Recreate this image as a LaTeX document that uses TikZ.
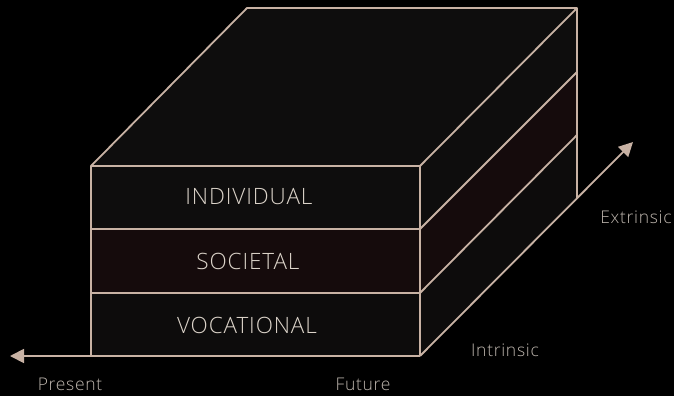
\documentclass[tikz,border=0pt]{standalone}
\usepackage{fontspec}
\setmainfont{Open Sans}
\newfontfamily\labfont[LetterSpace=4]{Open Sans Light}
\usetikzlibrary{arrows.meta}
\definecolor{edge}{HTML}{C8B2A4}
\definecolor{txt}{HTML}{DCD4CA}
\definecolor{sm}{HTML}{BDB5AD}
\definecolor{faceA}{HTML}{0E0D0D}
\definecolor{faceB}{HTML}{150B0C}
\definecolor{faceC}{HTML}{0D0C0C}
\tikzset{
  ln/.style={draw=edge, line width=1.8pt, line join=round},
  layertxt/.style={text=txt, font=\labfont\fontsize{22.5}{24}\selectfont},
  axistxt/.style={text=sm, font=\labfont\fontsize{17.5}{19}\selectfont},
  axarrow/.style={draw=edge, line width=1.8pt, -{Triangle[length=14pt,width=14pt]}}
}
\begin{document}
\begin{tikzpicture}[x=1pt,y=-1pt]
\fill[black] (0,0) rectangle (674,396);
\useasboundingbox (0,0) rectangle (674,396);
% corners
\coordinate (f1) at (91,166);  \coordinate (f2) at (420,166);
\coordinate (f3) at (91,229);  \coordinate (f4) at (420,229);
\coordinate (f5) at (91,293);  \coordinate (f6) at (420,293);
\coordinate (f7) at (91,356);  \coordinate (f8) at (420,356);
\coordinate (b1) at (247,8);   \coordinate (b2) at (577,8);
\coordinate (b4) at (577,72);  \coordinate (b6) at (577,135);
\coordinate (b8) at (577,198);
\coordinate (pl) at (10,356);
\coordinate (ex) at (633,142);
% faces
\fill[faceA] (f1) -- (b1) -- (b2) -- (f2) -- cycle;
\fill[faceA] (f1) rectangle (f4);
\fill[faceB] (f3) rectangle (f6);
\fill[faceC] (f5) rectangle (f8);
\fill[faceA] (f2) -- (b2) -- (b4) -- (f4) -- cycle;
\fill[faceB] (f4) -- (b4) -- (b6) -- (f6) -- cycle;
\fill[faceC] (f6) -- (b6) -- (b8) -- (f8) -- cycle;
% edges
\draw[ln] (f7) -- (f1) -- (b1) -- (b2) -- (b8);
\draw[ln] (f1) -- (f2) -- (b2);
\draw[ln] (f2) -- (f8);
\draw[ln] (f3) -- (f4) -- (b4);
\draw[ln] (f5) -- (f6) -- (b6);
% axes
\draw[axarrow] (f8) -- (pl);
\draw[axarrow] (f8) -- (ex);
% labels
\node[layertxt] (ind) at (249,197) {INDIVIDUAL};
\node[layertxt] (soc) at (248,261) {SOCIETAL};
\node[layertxt] (voc) at (247,325) {VOCATIONAL};
\node[axistxt] (pre) at (70,384) {Present};
\node[axistxt] (fut) at (363,384) {Future};
\node[axistxt] (int) at (505,350) {Intrinsic};
\node[axistxt] (ext) at (636,217) {Extrinsic};
\end{tikzpicture}
\end{document}
